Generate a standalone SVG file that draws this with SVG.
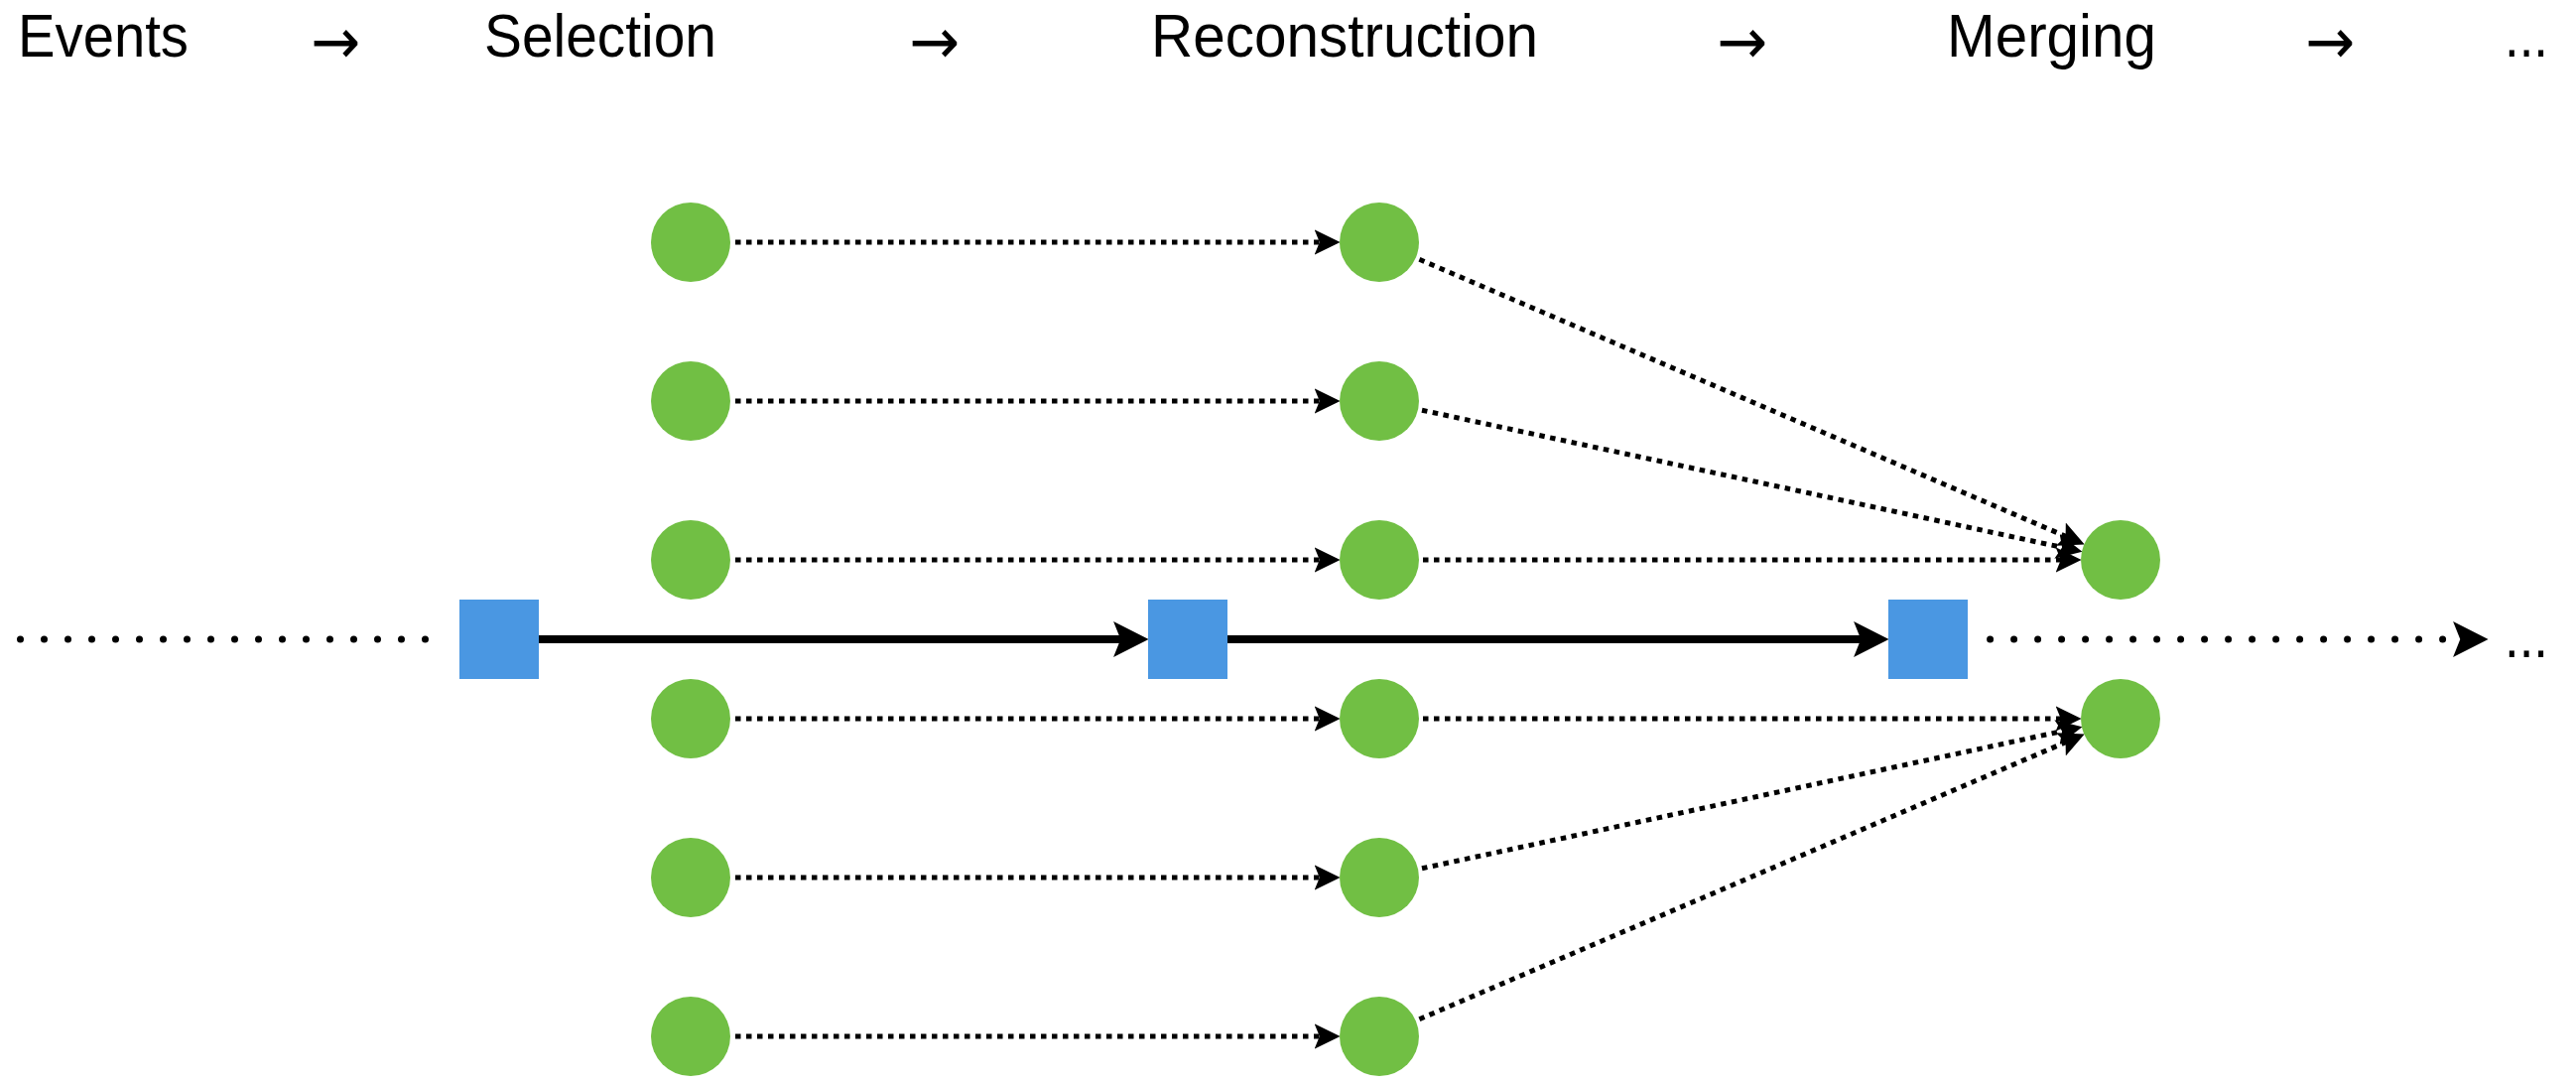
<svg xmlns="http://www.w3.org/2000/svg" width="2596" height="1092" viewBox="0 0 2596 1092">
  <style>
    .label { font-family: "Liberation Sans", Arial, sans-serif; font-size: 61px; fill: #000; }
    .arrow { font-family: "DejaVu Sans", sans-serif; font-size: 64px; fill: #000; }
    .step { fill: #71BF44; }
    .state { fill: #4A97E2; }
    .flow { stroke: #000; stroke-width: 5; stroke-dasharray: 5.5 5.5; fill: none; }
    .main { stroke: #000; stroke-width: 8; fill: none; }
    .dots { stroke: #000; stroke-width: 7; stroke-linecap: round; stroke-dasharray: 0 24; fill: none; }
  </style>
  <defs>
    <!-- small concave arrowhead for the dotted flows; tip sits 15px past the line end -->
    <marker id="tip-small" markerUnits="userSpaceOnUse" markerWidth="26" markerHeight="26" viewBox="0 0 25 24.4" refX="10" refY="12.2" orient="auto">
      <path d="M0,0 L25,12.2 L0,24.4 L5,12.2 Z" fill="#000"/>
    </marker>
    <!-- large concave arrowhead for the main line; tip sits 20px past the line end -->
    <marker id="tip-large" markerUnits="userSpaceOnUse" markerWidth="36" markerHeight="36" viewBox="0 0 34.5 35" refX="14.5" refY="17.5" orient="auto">
      <path d="M0,0 L34.5,17.5 L0,35 L7,17.5 Z" fill="#000"/>
    </marker>
  </defs>

  <!-- stage headings -->
  <g id="headings">
    <text class="label" x="18" y="57" textLength="172" lengthAdjust="spacingAndGlyphs">Events</text>
    <text class="arrow" x="313" y="64" textLength="50" lengthAdjust="spacingAndGlyphs">→</text>
    <text class="label" x="488" y="57" textLength="234" lengthAdjust="spacingAndGlyphs">Selection</text>
    <text class="arrow" x="916" y="64" textLength="51" lengthAdjust="spacingAndGlyphs">→</text>
    <text class="label" x="1160" y="57" textLength="390" lengthAdjust="spacingAndGlyphs">Reconstruction</text>
    <text class="arrow" x="1730" y="64" textLength="51" lengthAdjust="spacingAndGlyphs">→</text>
    <text class="label" x="1962" y="57" textLength="211" lengthAdjust="spacingAndGlyphs">Merging</text>
    <text class="arrow" x="2323" y="64" textLength="50" lengthAdjust="spacingAndGlyphs">→</text>
    <text class="label" x="2524" y="57" textLength="44" lengthAdjust="spacingAndGlyphs">...</text>
  </g>

  <!-- connectors -->
  <g id="connectors">
    <!-- main line -->
    <line class="dots" x1="-3.5" y1="644" x2="452.5" y2="644"/>
    <line class="main" x1="543" y1="644" x2="1137" y2="644" marker-end="url(#tip-large)"/>
    <line class="main" x1="1237" y1="644" x2="1883" y2="644" marker-end="url(#tip-large)"/>
    <line class="dots" x1="2005.6" y1="644" x2="2487" y2="644" marker-end="url(#tip-large)"/>

    <!-- selection to reconstruction -->
    <line class="flow" x1="741" y1="244" x2="1335" y2="244" marker-end="url(#tip-small)"/>
    <line class="flow" x1="741" y1="404" x2="1335" y2="404" marker-end="url(#tip-small)"/>
    <line class="flow" x1="741" y1="564" x2="1335" y2="564" marker-end="url(#tip-small)"/>
    <line class="flow" x1="741" y1="724" x2="1335" y2="724" marker-end="url(#tip-small)"/>
    <line class="flow" x1="741" y1="884" x2="1335" y2="884" marker-end="url(#tip-small)"/>
    <line class="flow" x1="741" y1="1044" x2="1335" y2="1044" marker-end="url(#tip-small)"/>

    <!-- reconstruction to merging -->
    <line class="flow" x1="1430.4" y1="261.3" x2="2086.4" y2="542.3" marker-end="url(#tip-small)"/>
    <line class="flow" x1="1433" y1="413.2" x2="2083.2" y2="552.5" marker-end="url(#tip-small)"/>
    <line class="flow" x1="1434" y1="564" x2="2082" y2="564" marker-end="url(#tip-small)"/>
    <line class="flow" x1="1434" y1="724" x2="2082" y2="724" marker-end="url(#tip-small)"/>
    <line class="flow" x1="1433" y1="874.8" x2="2083.2" y2="735.5" marker-end="url(#tip-small)"/>
    <line class="flow" x1="1430.4" y1="1026.7" x2="2086.4" y2="745.7" marker-end="url(#tip-small)"/>
  </g>

  <!-- main-line states -->
  <g id="state-1"><rect class="state" x="463" y="604" width="80" height="80"/></g>
  <g id="state-2"><rect class="state" x="1157" y="604" width="80" height="80"/></g>
  <g id="state-3"><rect class="state" x="1903" y="604" width="80" height="80"/></g>

  <!-- selection column -->
  <g id="sel-1"><circle class="step" cx="696" cy="244" r="40"/></g>
  <g id="sel-2"><circle class="step" cx="696" cy="404" r="40"/></g>
  <g id="sel-3"><circle class="step" cx="696" cy="564" r="40"/></g>
  <g id="sel-4"><circle class="step" cx="696" cy="724" r="40"/></g>
  <g id="sel-5"><circle class="step" cx="696" cy="884" r="40"/></g>
  <g id="sel-6"><circle class="step" cx="696" cy="1044" r="40"/></g>

  <!-- reconstruction column -->
  <g id="reco-1"><circle class="step" cx="1390" cy="244" r="40"/></g>
  <g id="reco-2"><circle class="step" cx="1390" cy="404" r="40"/></g>
  <g id="reco-3"><circle class="step" cx="1390" cy="564" r="40"/></g>
  <g id="reco-4"><circle class="step" cx="1390" cy="724" r="40"/></g>
  <g id="reco-5"><circle class="step" cx="1390" cy="884" r="40"/></g>
  <g id="reco-6"><circle class="step" cx="1390" cy="1044" r="40"/></g>

  <!-- merged outputs -->
  <g id="merge-1"><circle class="step" cx="2137" cy="564" r="40"/></g>
  <g id="merge-2"><circle class="step" cx="2137" cy="724" r="40"/></g>

  <!-- continuation -->
  <g id="continuation">
    <text class="label" x="2524" y="662" textLength="44" lengthAdjust="spacingAndGlyphs">...</text>
  </g>
</svg>
